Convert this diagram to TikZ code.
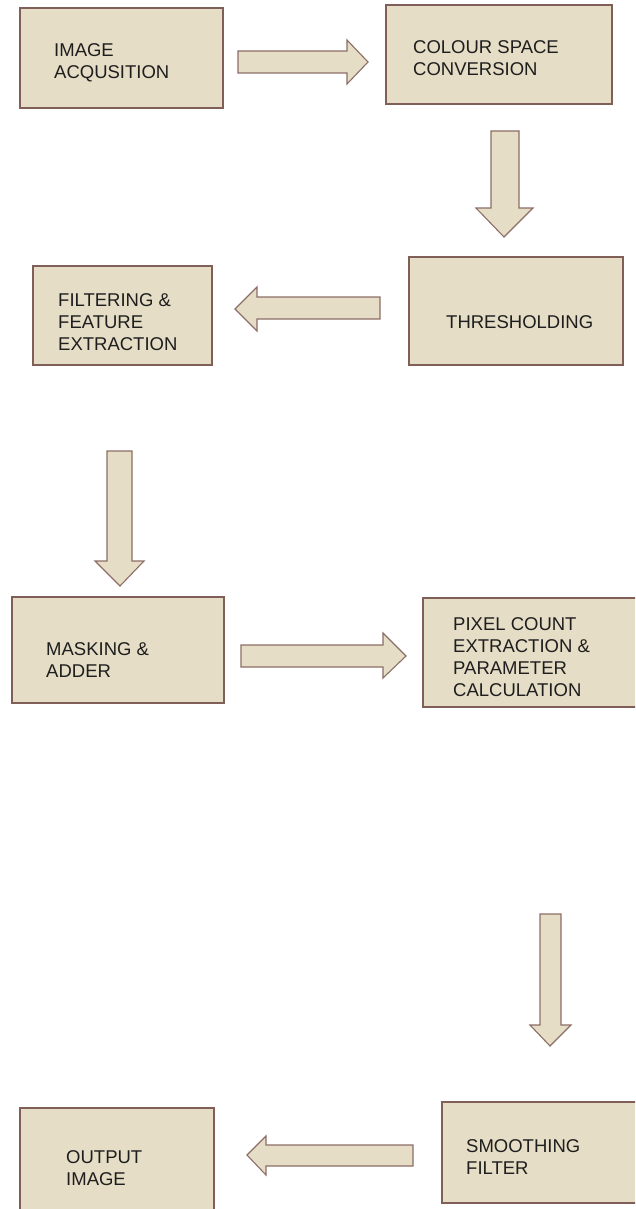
\documentclass[tikz,border=0pt]{standalone}
\usepackage{fontspec}
\setmainfont{Liberation Sans}
\definecolor{boxfill}{HTML}{E6DDC6}
\definecolor{boxline}{HTML}{7F5F57}
\definecolor{arrline}{HTML}{8C6E66}
\definecolor{txt}{HTML}{1E1E1E}
\begin{document}
\begin{tikzpicture}[x=1pt,y=-1pt,
  box/.style={draw=boxline,fill=boxfill,line width=1.3pt},
  blockarr/.style={draw=arrline,fill=boxfill,line width=1.1pt,line join=miter},
  lbl/.style={anchor=north west,inner sep=0pt,align=left,text=txt,
    font=\fontsize{18.5}{22}\selectfont}]
\useasboundingbox (0,0) rectangle (635,1209);
\begin{scope}
\clip (0,0) rectangle (635,1209);
% boxes
\draw[box] (20,8) rectangle (223,108) coordinate (b1);
\draw[box] (386,5) rectangle (612,104) coordinate (b2);
\draw[box] (409,257) rectangle (623,365) coordinate (b3);
\draw[box] (33,266) rectangle (212,365) coordinate (b4);
\draw[box] (12,597) rectangle (224,703) coordinate (b5);
\draw[box] (423,598) rectangle (640,707) coordinate (b6);
\draw[box] (442,1102) rectangle (640,1203) coordinate (b7);
\draw[box] (20,1108) rectangle (214,1215) coordinate (b8);
% arrows
\draw[blockarr] (238,51) -- (347,51) -- (347,40) -- (368,62) -- (347,84) -- (347,73) -- (238,73) -- cycle;
\draw[blockarr] (491,131) -- (519,131) -- (519,208) -- (533,208) -- (504,237) -- (476,208) -- (491,208) -- cycle;
\draw[blockarr] (380,297) -- (257,297) -- (257,287) -- (235,309) -- (257,331) -- (257,319) -- (380,319) -- cycle;
\draw[blockarr] (107,451) -- (132,451) -- (132,561) -- (144,561) -- (120,586) -- (95,561) -- (107,561) -- cycle;
\draw[blockarr] (241,645) -- (383,645) -- (383,633) -- (406,656) -- (383,678) -- (383,667) -- (241,667) -- cycle;
\draw[blockarr] (540,914) -- (561,914) -- (561,1025) -- (571,1025) -- (550,1046) -- (530,1025) -- (540,1025) -- cycle;
\draw[blockarr] (413,1145) -- (266,1145) -- (266,1136) -- (247,1155) -- (266,1175) -- (266,1166) -- (413,1166) -- cycle;
\end{scope}
% labels
\node[lbl] (t1) at (54,43) {IMAGE\\ACQUSITION};
\node[lbl] (t2) at (413,40) {COLOUR SPACE\\CONVERSION};
\node[lbl] (t3) at (446,315) {THRESHOLDING};
\node[lbl] (t4) at (58,293) {FILTERING \&\\FEATURE\\EXTRACTION};
\node[lbl] (t5) at (46,642) {MASKING \&\\ADDER};
\node[lbl] (t6) at (453,617) {PIXEL COUNT\\EXTRACTION \&\\PARAMETER\\CALCULATION};
\node[lbl] (t7) at (466,1139) {SMOOTHING\\FILTER};
\node[lbl] (t8) at (66,1150) {OUTPUT\\IMAGE};
\end{tikzpicture}
\end{document}
